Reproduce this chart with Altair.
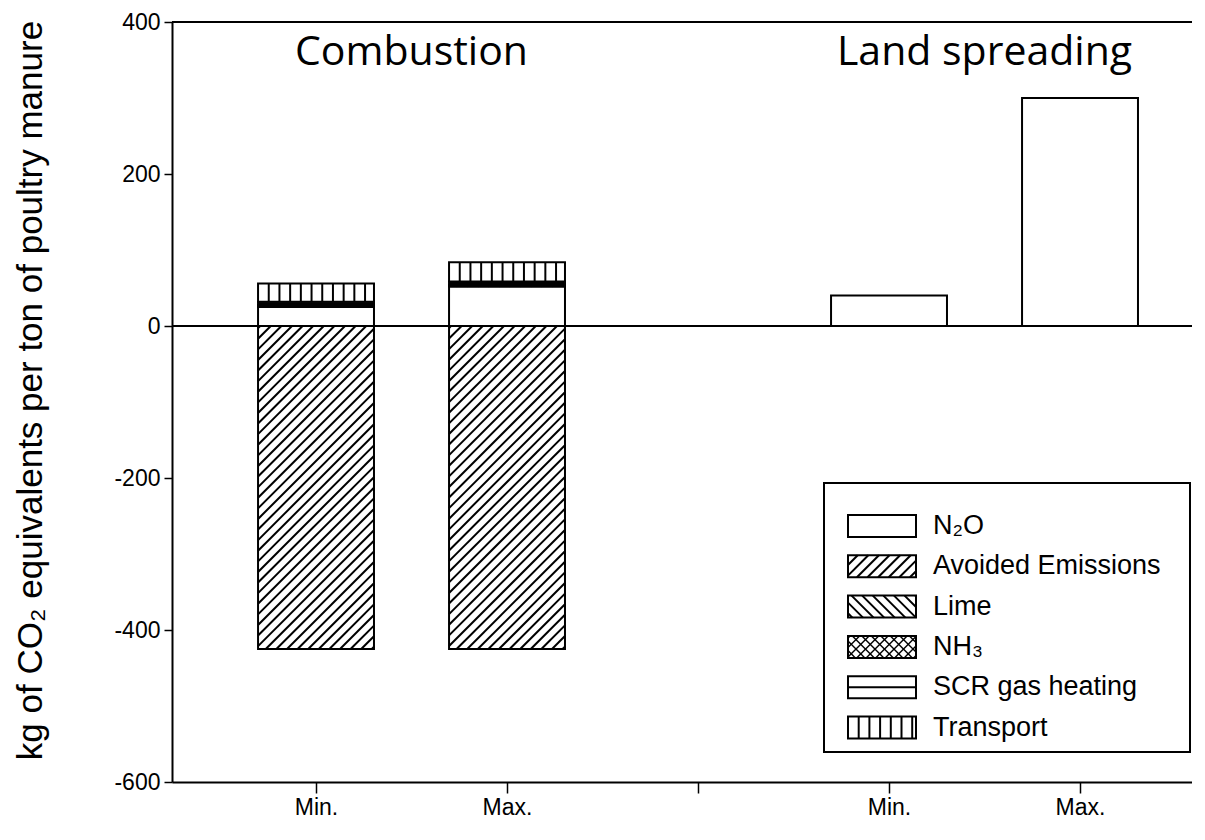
import json
import math
import altair as alt
import pandas as pd

# ---------------- data ----------------
x_tick_labels = ["Min.", "Max.", "", "Min.", "Max."]
bar_positions = [1, 2, 4, 5]
scenario = ["Combustion Min.", "Combustion Max.", "Land spreading Min.", "Land spreading Max."]
n2o = [25, 52, 40, 300]
avoided = [-425, -425, 0, 0]
lime = [1, 1, 0, 0]
nh3 = [2, 1.5, 0, 0]
scr = [4, 4, 0, 0]
transport = [24, 25.5, 0, 0]
group_titles = ["Combustion", "Land spreading"]
group_centers = [1.5, 4.5]
legend_labels = ["N₂O", "Avoided Emissions", "Lime", "NH₃", "SCR gas heating", "Transport"]
y_ticks = [-600, -400, -200, 0, 200, 400]

# ---------------- layout ----------------
W, H = 1020, 760
X_DOM = [0.246, 0.246 + W / 191.0]
Y_DOM = [-600, 400]
KX = W / (X_DOM[1] - X_DOM[0])
KY = H / (Y_DOM[1] - Y_DOM[0])
BAR_W = 0.607
FONT = "Liberation Sans"

pattern_of = {
    "N₂O": ("none", 0),
    "Avoided Emissions": ("up", 10.6),
    "Lime": ("down", 10.6),
    "NH₃": ("cross", 9.5),
    "SCR gas heating": ("horiz", 11.0),
    "Transport": ("vert", 10.7),
}


def to_px(x):
    return (x - X_DOM[0]) * KX


def to_py(y):
    return (Y_DOM[1] - y) * KY


def px_x(px):
    return X_DOM[0] + px / KX


def py_y(py):
    return Y_DOM[1] - py / KY


def hatch(px0, px1, pt, pb, kind, sp):
    segs = []
    if kind in ("up", "cross"):
        c = math.ceil((px0 + pt) / sp) * sp
        while c <= px1 + pb:
            lo = max(px0, c - pb)
            hi = min(px1, c - pt)
            if hi - lo > 0.5:
                segs.append((lo, c - lo, hi, c - hi))
            c += sp
    if kind in ("down", "cross"):
        c = math.ceil((px0 - pb) / sp) * sp
        while c <= px1 - pt:
            lo = max(px0, c + pt)
            hi = min(px1, c + pb)
            if hi - lo > 0.5:
                segs.append((lo, lo - c, hi, hi - c))
            c += sp
    if kind == "horiz":
        mid = (pt + pb) / 2.0
        k = -10
        while k <= 10:
            yy = mid + k * sp
            if pt + 1 < yy < pb - 1 or k == 0:
                segs.append((px0, yy, px1, yy))
            k += 1
    if kind == "vert":
        xx = px0 + sp
        while xx < px1 - 1.5:
            segs.append((xx, pt, xx, pb))
            xx += sp
    return segs


rects = []        # data-space rectangles
lines = []        # data-space hatch segments
fine_lines = []   # thinner hatch segments (cross hatch)


def add_rect(x0, x1, y0, y1, label):
    rects.append({"x": x0, "x2": x1, "y": y0, "y2": y1, "series": label})
    kind, sp = pattern_of[label]
    if kind == "none":
        return
    px0, px1 = to_px(x0), to_px(x1)
    pt, pb = to_py(max(y0, y1)), to_py(min(y0, y1))
    target = fine_lines if kind == "cross" else lines
    for (ax, ay, bx, by) in hatch(px0, px1, pt, pb, kind, sp):
        target.append({"x": px_x(ax), "y": py_y(ay), "x2": px_x(bx), "y2": py_y(by)})


series_values = [
    ("N₂O", n2o),
    ("Lime", lime),
    ("NH₃", nh3),
    ("SCR gas heating", scr),
    ("Transport", transport),
]
for i, pos in enumerate(bar_positions):
    x0, x1 = pos - BAR_W / 2, pos + BAR_W / 2
    base = 0.0
    for label, vals in series_values:
        v = vals[i]
        if v > 0:
            add_rect(x0, x1, base, base + v, label)
            base += v
    if avoided[i] < 0:
        add_rect(x0, x1, 0, avoided[i], "Avoided Emissions")

n_bars = len(rects)

# legend (pixel layout inside the plot, converted to data space)
LEG_BOX = (652, 1018, 461, 730)
legend_box_df = pd.DataFrame([{
    "x": px_x(LEG_BOX[0]), "x2": px_x(LEG_BOX[1]),
    "y": py_y(LEG_BOX[2]), "y2": py_y(LEG_BOX[3]),
}])
leg_text = []
for j, lab in enumerate(legend_labels):
    top = 493 + 40.3 * j
    sx0, sx1 = 676, 744
    add_rect(px_x(sx0), px_x(sx1), py_y(top + 22), py_y(top), lab)
    leg_text.append({"x": px_x(761), "y": py_y(top + 11), "label": lab})
legend_sw_df = pd.DataFrame(rects[n_bars:])
bars_df = pd.DataFrame(rects[:n_bars])
lines_df = pd.DataFrame(lines)
fine_df = pd.DataFrame(fine_lines)
legend_text_df = pd.DataFrame(leg_text)

titles_df = pd.DataFrame({"x": group_centers, "y": [343.0, 343.0], "label": group_titles})
hlines_df = pd.DataFrame({"y": [Y_DOM[1], 0]})

xscale = alt.Scale(domain=X_DOM, nice=False, zero=False)
yscale = alt.Scale(domain=Y_DOM, nice=False, zero=False)

label_expr = "%s[datum.value - 1]" % json.dumps(x_tick_labels, ensure_ascii=False)

x_axis = alt.Axis(
    values=[1, 2, 3, 4, 5], labelExpr=label_expr, grid=False, title=None,
    tickSize=11, labelPadding=3,
)
y_axis = alt.Axis(
    values=y_ticks, grid=False, title="kg of CO₂ equivalents per ton of poultry manure",
    labelExpr="'' + datum.value",
    tickSize=8, labelPadding=4,
    titleAngle=270, titleX=-142, titleY=368, titleAlign="center", titleBaseline="middle",
)

X = alt.X("x:Q", scale=xscale, axis=x_axis)
Y = alt.Y("y:Q", scale=yscale, axis=y_axis)

bars = alt.Chart(bars_df).mark_rect(fill="white", stroke="black", strokeWidth=2).encode(
    x=X, x2="x2:Q", y=Y, y2="y2:Q",
)

hatch_layer = alt.Chart(lines_df).mark_rule(color="black", strokeWidth=2.0).encode(
    x=X, x2="x2:Q", y=Y, y2="y2:Q",
)
fine_layer = alt.Chart(fine_df).mark_rule(color="black", strokeWidth=1.4).encode(
    x=X, x2="x2:Q", y=Y, y2="y2:Q",
)

hrules = alt.Chart(hlines_df).mark_rule(color="black", strokeWidth=2).encode(y=Y)

titles = alt.Chart(titles_df).mark_text(
    font="Open Sans", fontSize=41, color="black", baseline="alphabetic", align="center"
).encode(x=X, y=Y, text="label:N")

legend_box = alt.Chart(legend_box_df).mark_rect(fill="white", stroke="black", strokeWidth=2).encode(
    x=X, x2="x2:Q", y=Y, y2="y2:Q"
)
legend_sw = alt.Chart(legend_sw_df).mark_rect(fill="white", stroke="black", strokeWidth=2).encode(
    x=X, x2="x2:Q", y=Y, y2="y2:Q"
)
legend_txt = alt.Chart(legend_text_df).mark_text(
    font=FONT, fontSize=27, color="black", baseline="middle", align="left"
).encode(x=X, y=Y, text="label:N")

chart = alt.layer(
    bars, hrules, legend_box, legend_sw, hatch_layer, fine_layer, titles, legend_txt
).properties(
    width=W, height=H,
    autosize=alt.AutoSizeParams(type="none"),
    padding={"left": 164, "top": 14, "right": 0, "bottom": 50},
).configure_view(stroke=None).configure_axis(
    grid=False, tickColor="black", tickWidth=1.5, domainColor="black", domainWidth=2,
    labelFont=FONT, labelFontSize=23, labelColor="black",
    titleFont=FONT, titleFontSize=35, titleFontWeight="normal", titleColor="black",
)

chart.save("out.html", embed_options={"renderer": "svg", "actions": False})
